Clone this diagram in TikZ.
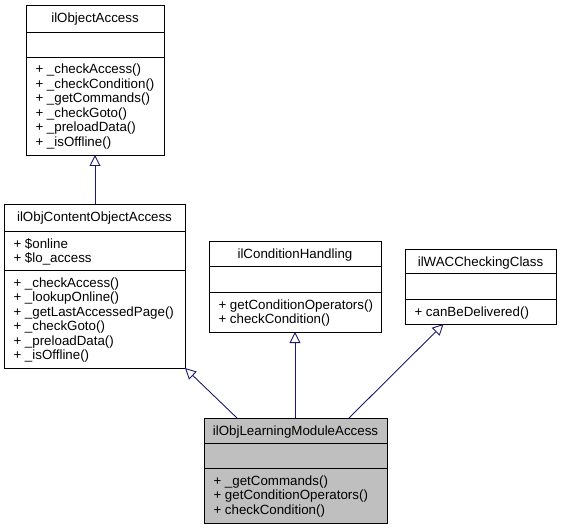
\documentclass[tikz,border=0pt]{standalone}
\usepackage{fontspec}
\setmainfont{Liberation Sans}
\usetikzlibrary{arrows.meta,calc}
\definecolor{edgeblue}{HTML}{191970}
\definecolor{lmagray}{HTML}{BFBFBF}
\definecolor{lmaborder}{HTML}{404040}
\tikzset{
  classbox/.style={draw=black, line width=0.9pt, inner sep=0pt, outer sep=0pt, rectangle},
  sepline/.style={draw=black, line width=0.9pt},
  txt/.style={inner sep=0pt, outer sep=0pt, font=\fontsize{13.33}{14.5}\selectfont},
  inh/.style={draw=edgeblue, line width=0.9pt, -{Triangle[open, length=11pt, width=11pt, fill=white]}},
}
% #1 name, #2 left, #3 top, #4 right, #5 sep1, #6 sep2, #7 bottom, #8 fill, #9 title
\newcommand\umlclass[9]{%
  \node[classbox, fill=#8, minimum width={#4-#2}, minimum height={#7-#3}, anchor=north west] (#1) at (#2,#3) {};
  \draw[sepline] (#2,#5) -- (#4,#5);
  \draw[sepline] (#2,#6) -- (#4,#6);
  \node[txt, anchor=base] (#1-title) at ({(#2+#4)/2},{#3+17.5}) {#9};
}
\newcommand\umlmembers[4]{% #1 name, #2 left, #3 top y of section, #4 list
  \foreach \t [count=\i from 0] in {#4} {
    \node[txt, anchor=base west] (#1-m\i) at ({#2+9.5},{#3+17+14.5*\i}) {\t};
  }%
}
\begin{document}
\begin{tikzpicture}[x=1pt,y=-1pt]
\useasboundingbox (0,0) rectangle (561,529);
% ilObjectAccess
\umlclass{oa}{26}{5}{164}{32}{57}{155}{white}{ilObjectAccess}
\umlmembers{oa}{26}{57}{+ \_checkAccess(),+ \_checkCondition(),+ \_getCommands(),+ \_checkGoto(),+ \_preloadData(),+ \_isOffline()}
% ilObjContentObjectAccess
\umlclass{coa}{4}{204}{185}{231}{270}{368}{white}{ilObjContentObjectAccess}
\umlmembers{coa}{4}{231}{+ \$online,+ \$lo\_access}
\umlmembers{coa}{4}{270}{+ \_checkAccess(),+ \_lookupOnline(),+ \_getLastAccessedPage(),+ \_checkGoto(),+ \_preloadData(),+ \_isOffline()}
% ilConditionHandling
\umlclass{ch}{209}{241}{381}{266}{292}{332}{white}{ilConditionHandling}
\umlmembers{ch}{209}{292}{+ getConditionOperators(),+ checkCondition()}
% ilWACCheckingClass
\umlclass{wac}{405}{249}{556}{273}{299}{324}{white}{ilWACCheckingClass}
\umlmembers{wac}{405}{299}{+ canBeDelivered()}
% ilObjLearningModuleAccess
\umlclass{lma}{204}{418}{387}{443}{468}{523}{lmagray}{ilObjLearningModuleAccess}
\umlmembers{lma}{204}{468}{+ \_getCommands(),+ getConditionOperators(),+ checkCondition()}
% inheritance
\draw[inh] (oa.south |- coa.north) -- (oa.south);
\draw[inh] ($(lma.north west)+(33,0)$) -- (coa.south east);
\draw[inh] (ch.south |- lma.north) -- (ch.south);
\draw[inh] ($(lma.north east)+(-38,0)$) -- ($(wac.south)+(-37,0)$);
\end{tikzpicture}
\end{document}
